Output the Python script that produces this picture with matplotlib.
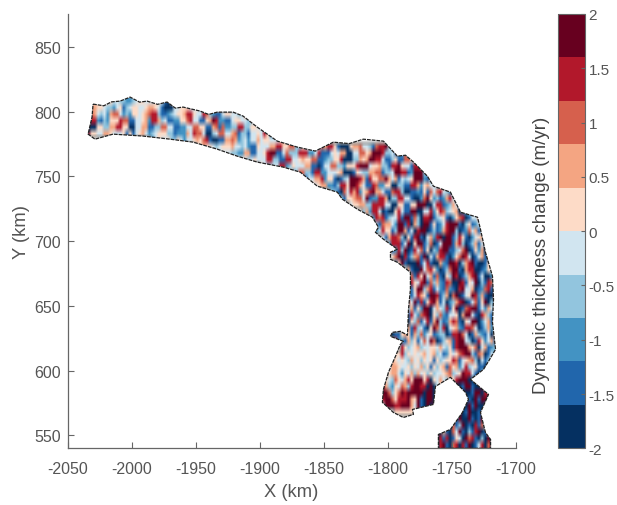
import numpy as np
import matplotlib
matplotlib.use('Agg')
import matplotlib.pyplot as plt
from matplotlib.colors import ListedColormap, BoundaryNorm
from matplotlib.patches import Polygon

plt.rcParams['font.family'] = ['Liberation Sans', 'DejaVu Sans']
plt.rcParams['axes.unicode_minus'] = False

band_colors = ['#053061', '#2166ac', '#4393c3', '#92c5de', '#d1e5f0',
               '#fddbc7', '#f4a582', '#d6604d', '#b2182b', '#67001f']
band_edges = [-2, -1.6, -1.2, -0.8, -0.4, 0, 0.4, 0.8, 1.2, 1.6, 2]
cbar_ticks = [-2, -1.5, -1, -0.5, 0, 0.5, 1, 1.5, 2]
cbar_labels = ['-2', '-1.5', '-1', '-0.5', '0', '0.5', '1', '1.5', '2']
xticks = [-2050, -2000, -1950, -1900, -1850, -1800, -1750, -1700]
yticks = [550, 600, 650, 700, 750, 800, 850]

# cells, 2.5 km wide and 5 km tall, rows going south from 810 km
# row_start = first column of the row, digit = colour band (0 darkest blue, 9 darkest red)
grid_x0 = -2035
grid_y0 = 810
cell_w = 2.5
cell_h = 5
row_start = [0, 0, 0, 0, 0, 0, 20, 34, 40, 46, 54, 60, 66, 70, 76, 78, 82, 86, 88, 90,
             90, 92, 92, 94, 94, 96, 100, 100, 100, 100, 100, 100, 100, 100, 100, 100, 94, 96, 98, 96,
             94, 94, 94, 92, 92, 92, 92, 92, 96, 112, 110, 106, 106, 106]
row_cells = [
    '44554555443322345544455410',
    '466554332451345544566541000445554453',
    '87643426774232554567883112345568854487321145544346',
    '088213255587711445628863411225578441156982211455443345',
    '00055336688550044661133774411224477551167172233883355444',
    '95544665444515145642345553312226487740034774467133144548522345',
    '2454453354244565781001166762342446455444564887',
    '45655434555644342115444668855773354543476885100056674431788942',
    '544443322661144589911473338882248111454660044775699983341227',
    '4454345444883311884456557711233558000336569988411351177554',
    '543344882354446611014477332555899945563318895441887833',
    '45652377331882244456000154336677133499881299933216',
    '33144668255101349998618557796461434599921334',
    '54566221388599864118722550033118862564435773',
    '3310748682568966411788300112151747843245',
    '2315567749122886033884410027952312684155',
    '455663388884400551155999004881236412',
    '362884010058411990044825873456012345',
    '528781344819917308891345102578014463',
    '3176642991806309915124899910351245',
    '248551399614089901312689930127461352',
    '4168873051891046289099138510245673',
    '3528881490599137014999168301361402',
    '61283901847150328991134790152600',
    '45790813671904168810257984014610',
    '25910009148100621998036891001573',
    '6100947852013799106880012547',
    '2718594617105398013689140026',
    '1854891736218700981549031872',
    '4159936814217210894460127810',
    '3148651998136079014598261007',
    '7491815896140236890147159031',
    '3615299046438159017899142640',
    '1842789053721445069941086315',
    '0537148169312687105499024613',
    '6183410597380456218874013624',
    '1011565163724512330188974016321405',
    '82216351474970135618994301852461',
    '85345634455464351899965704612311',
    '5583545456456341254578993176014215',
    '5654543645354515345587145673041352',
    '46654453546351535617562483451106',
    '566425463645353445673459884103',
    '65437546859995805464365899900013',
    '9632547638998809045789900199100918',
    '997357989999909901968999900019908810',
    '899758889659109908976899990109199000',
    '4999889996491090967745991009190018',
    '5555555898910908890190190010',
    '890190091019',
    '89107139010817',
    '98190610749103189014',
    '5910818015409781030901',
    '4190891078081901480790',
]

# glacier outline in km
outline_x = [-2030.4, -2022, -2016, -2009.3, -2001.4, -1994, -1988.1, -1980, -1972.5, -1966, -1960,
             -1946.6, -1940, -1933.3, -1920.8, -1913,
             -1902, -1886.3, -1870.7, -1856.6, -1842.5, -1830, -1819, -1803.3, -1792.4, -1786, -1779.8, -1768.9,
             -1764.2, -1750.9, -1743, -1729.7, -1727.4, -1723.5, -1718, -1717.2, -1718, -1715.6,
             -1721.1, -1725, -1735.2, -1721.1, -1727.4, -1723.5, -1719.5, -1719.5, -1760.3, -1760.3,
             -1750.9, -1741.5, -1736.8, -1739.1, -1750.9, -1762.6, -1764.2, -1780.6, -1779.8, -1787.7,
             -1795.5, -1804.1, -1803.3, -1799.4, -1793.9, -1790, -1787.7, -1797.8, -1796.3, -1790,
             -1784.5, -1783.7, -1782.2, -1782.2, -1792.4, -1797.8, -1797.8, -1792.4, -1803.3, -1809.6,
             -1807.2, -1811.9, -1823.7, -1835.4, -1839.4, -1855, -1868.3, -1881.6, -1902, -1917.7,
             -1933.3, -1952.1, -1970.1, -1991.3, -2014.8, -2028.9, -2034.3, -2031.2, -2030.4]
outline_y = [805.9, 804.6, 807.6, 808.2, 811.3, 807.4, 808.2, 805.7, 807.5, 802.8, 803.6,
             800.5, 797.9, 799.7, 799.7, 796.6,
             788.1, 777.3, 772.7, 769.6, 776.5, 775.4, 778.8, 777.3, 765.7, 766.4, 761.1, 750.2,
             742.5, 737.9, 722.4, 718.5, 709.2, 691.5, 672.9, 655.1, 637.3, 616.4,
             607.2, 601, 593.2, 581.6, 567.7, 552.2, 546.8, 540, 540, 550.7,
             554.6, 567.7, 577.8, 583.2, 594.8, 587.8, 573.9, 570, 566.2, 563.8,
             567.7, 575.5, 585.5, 598.6, 611, 620.3, 622.6, 626.5, 629.6, 630.4,
             627.3, 647.4, 662.8, 676, 683.7, 686, 691.5, 693.8, 701.5, 706.9,
             710.8, 718.5, 724.7, 732.4, 737.9, 742.5, 753.3, 757.2, 761.1, 765.7,
             771.1, 776.5, 778.8, 781.2, 782.7, 778.8, 782.7, 795.9, 805.9]

grey = '#555555'
W, H = 617, 506

ncols = max(s + len(c) for s, c in zip(row_start, row_cells))
values = np.full((len(row_cells), ncols), np.nan)
for i, (s, c) in enumerate(zip(row_start, row_cells)):
    for j, d in enumerate(c):
        values[i, s + j] = band_edges[int(d)] + 0.2

cmap = ListedColormap(band_colors)
norm = BoundaryNorm(band_edges, cmap.N)

fig = plt.figure(figsize=(W / 100, H / 100), dpi=100)
ax = fig.add_axes([68 / W, 1 - 449.3 / H, (515.5 - 68) / W, (449.3 - 15) / H])
extent = [grid_x0, grid_x0 + ncols * cell_w, grid_y0 - len(row_cells) * cell_h, grid_y0]
im = ax.imshow(values, cmap=cmap, norm=norm, extent=extent, aspect='auto',
               interpolation='bilinear', interpolation_stage='rgba')
clip = Polygon(np.column_stack([outline_x, outline_y]), transform=ax.transData, fc='none', ec='none')
ax.add_patch(clip)
im.set_clip_path(clip)
ax.plot(outline_x, outline_y, color='#222222', lw=0.9, ls=(0, (3, 0.8)), clip_on=False)

ax.set_xlim(-2050, -1700)
ax.set_ylim(540, 875.5)
ax.set_xticks(xticks)
ax.set_yticks(yticks)
ax.spines['top'].set_visible(False)
ax.spines['right'].set_visible(False)
for sp in ['left', 'bottom']:
    ax.spines[sp].set_color('#666666')
    ax.spines[sp].set_linewidth(0.9)
ax.tick_params(direction='in', length=4, width=0.8, color='#666666', labelcolor=grey, labelsize=11.5, pad=5)
ax.tick_params(axis='x', pad=9)
ax.set_ylabel('Y (km)', fontsize=13.2, color=grey, labelpad=3)
fig.text(291 / W, 1 - 493 / H, 'X (km)', ha='center', va='center', fontsize=13.2, color=grey)

cax = fig.add_axes([558 / W, 1 - 449.3 / H, 26.5 / W, (449.3 - 15) / H])
cb = fig.colorbar(im, cax=cax, ticks=cbar_ticks, spacing='proportional')
cb.ax.set_yticklabels(cbar_labels)
cb.minorticks_off()
cb.ax.tick_params(direction='in', length=3, width=0.8, color='#666666', labelcolor=grey, labelsize=11, pad=3)
cb.outline.set_edgecolor('#666666')
cb.outline.set_linewidth(0.8)
fig.text(541 / W, 1 - 255 / H, 'Dynamic thickness change (m/yr)', rotation=90, ha='center', va='center',
         fontsize=13.5, color='#444444')

fig.savefig('out.png', dpi=100)
